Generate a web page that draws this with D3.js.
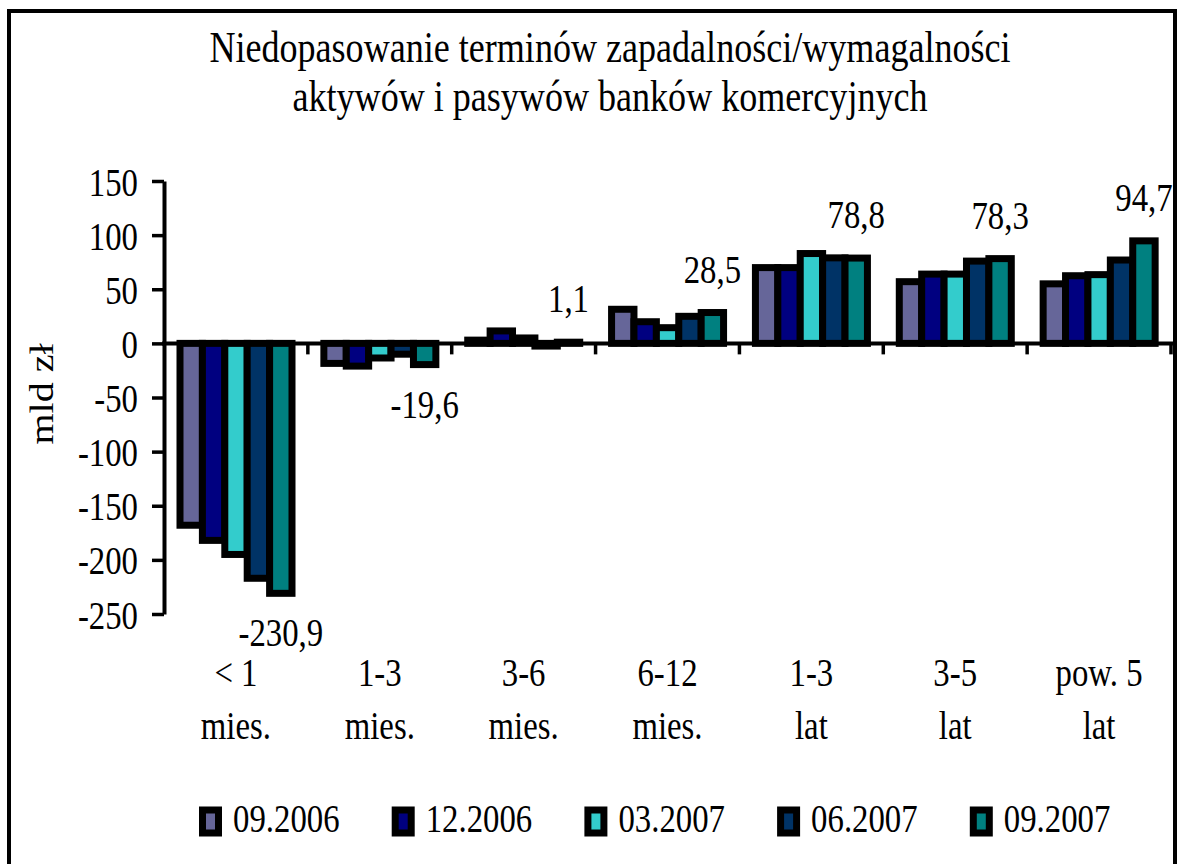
<!DOCTYPE html>
<html>
<head>
<meta charset="utf-8">
<script src="https://cdn.jsdelivr.net/npm/d3@7"></script>
<style>
    body { margin: 0; background: #fff; }
    svg { display: block; }
    text { font-family: "Liberation Serif", "Times New Roman", serif; fill: #000; }
</style>
</head>
<body>
<svg width="1180" height="864"></svg>
<script>
// kategorie (dwie linie podpisu)
var categories = [["< 1", "mies."], ["1-3", "mies."], ["3-6", "mies."], ["6-12", "mies."],
                  ["1-3", "lat"], ["3-5", "lat"], ["pow. 5", "lat"]];
var seriesNames = ["09.2006", "12.2006", "03.2007", "06.2007", "09.2007"];
var seriesColors = ["#666699", "#000080", "#33cccc", "#003366", "#008080"];

// mld zł
var s0906 = [-168, -18.5, 3, 31.5, 70, 57, 55];
var s1206 = [-182, -21, 11.5, 20, 70, 64, 62.5];
var s0307 = [-195, -13.5, 5, 14.5, 83, 64, 63.5];
var s0607 = [-217, -10, -2.5, 25, 79, 76, 77];
var s0907 = [-230.9, -19.6, 1.1, 28.5, 78.8, 78.3, 94.7];
var series = [s0906, s1206, s0307, s0607, s0907];

var yTicks = [-250, -200, -150, -100, -50, 0, 50, 100, 150];
var title = ["Niedopasowanie terminów zapadalności/wymagalności",
             "aktywów i pasywów banków komercyjnych"];

var SX = 0.82; // tekst w oryginale jest "ściśnięty"
var FS = 40;

var svg = d3.select("svg");

function stext(sel, x, y, str, anchor, size, rot) {
    var g = sel.append("g").attr("transform", "translate(" + x + "," + y + ") scale(" + SX + ",1)");
    var t = g.append("text")
        .attr("text-anchor", anchor || "middle")
        .attr("font-size", size || FS)
        .text(str);
    if (rot) t.attr("transform", "rotate(-90)");
    return t;
}

// ramka
svg.append("rect")
    .attr("x", 9).attr("y", 11)
    .attr("width", 1166).attr("height", 900)
    .attr("fill", "none").attr("stroke", "#000").attr("stroke-width", 4);

// tytuł
stext(svg, 610, 62, title[0], "middle", 44);
stext(svg, 610, 111, title[1], "middle", 44);

var x0 = d3.scaleBand().domain(d3.range(categories.length)).range([164, 1171]);
var x1 = d3.scaleBand().domain(d3.range(series.length)).range([16, 128]);
var y = d3.scaleLinear().domain([-250, 150]).range([614, 181]);

// słupki
var groups = svg.selectAll("g.cat")
    .data(categories)
    .enter()
    .append("g")
    .attr("class", "cat")
    .attr("transform", function (d, i) { return "translate(" + x0(i) + ",0)"; });

groups.selectAll("rect")
    .data(function (d, i) {
        return series.map(function (s, j) { return { j: j, v: s[i] }; });
    })
    .enter()
    .append("rect")
    .attr("x", function (d) { return x1(d.j); })
    .attr("width", x1.bandwidth())
    .attr("y", function (d) { return y(Math.max(0, d.v)); })
    .attr("height", function (d) { return Math.abs(y(d.v) - y(0)); })
    .attr("fill", function (d) { return seriesColors[d.j]; })
    .attr("stroke", "#000")
    .attr("stroke-width", 7);

// oś Y
var yAxis = svg.append("g")
    .attr("transform", "translate(164,0)")
    .call(d3.axisLeft(y).tickValues(yTicks).tickSize(12).tickSizeOuter(0)
        .tickFormat(function (d) { return String(d); }));
yAxis.select(".domain").attr("stroke-width", 4);
yAxis.selectAll(".tick line").attr("stroke-width", 3.5);
yAxis.selectAll(".tick text")
    .attr("font-size", FS)
    .attr("transform", "scale(" + SX + ",1)")
    .attr("x", -26 / SX)
    .attr("dy", null)
    .attr("y", 14);
yAxis.attr("font-family", null).attr("font-size", null);

// oś X (na zerze)
svg.append("line")
    .attr("x1", 162).attr("x2", 1173)
    .attr("y1", y(0)).attr("y2", y(0))
    .attr("stroke", "#000").attr("stroke-width", 4);
svg.selectAll("line.xtick")
    .data(categories)
    .enter()
    .append("line")
    .attr("class", "xtick")
    .attr("x1", function (d, i) { return x0(i) + x0.bandwidth(); })
    .attr("x2", function (d, i) { return x0(i) + x0.bandwidth(); })
    .attr("y1", y(0))
    .attr("y2", y(0) + 11)
    .attr("stroke", "#000").attr("stroke-width", 3.5);

// podpisy kategorii
categories.forEach(function (c, i) {
    var cx = x0(i) + x0.bandwidth() / 2;
    stext(svg, cx, 686, c[0]);
    stext(svg, cx, 739, c[1]);
});

// etykiety danych (09.2007)
s0907.forEach(function (v, i) {
    var cx = x0(i) + x1(4) + x1.bandwidth() / 2;
    var ty = v >= 0 ? y(v) - 30 : y(v) + 53;
    stext(svg, cx, ty, v.toFixed(1).replace(".", ","));
});

// tytuł osi
stext(svg, 53, 394, "mld zł", "middle", FS, true);

// legenda
seriesNames.forEach(function (name, j) {
    var lx = 199 + j * 192.7;
    svg.append("rect")
        .attr("x", lx + 3.5).attr("y", 810)
        .attr("width", 16).attr("height", 23)
        .attr("fill", seriesColors[j])
        .attr("stroke", "#000").attr("stroke-width", 7);
    stext(svg, lx + 34, 832, name, "start");
});
</script>
</body>
</html>
